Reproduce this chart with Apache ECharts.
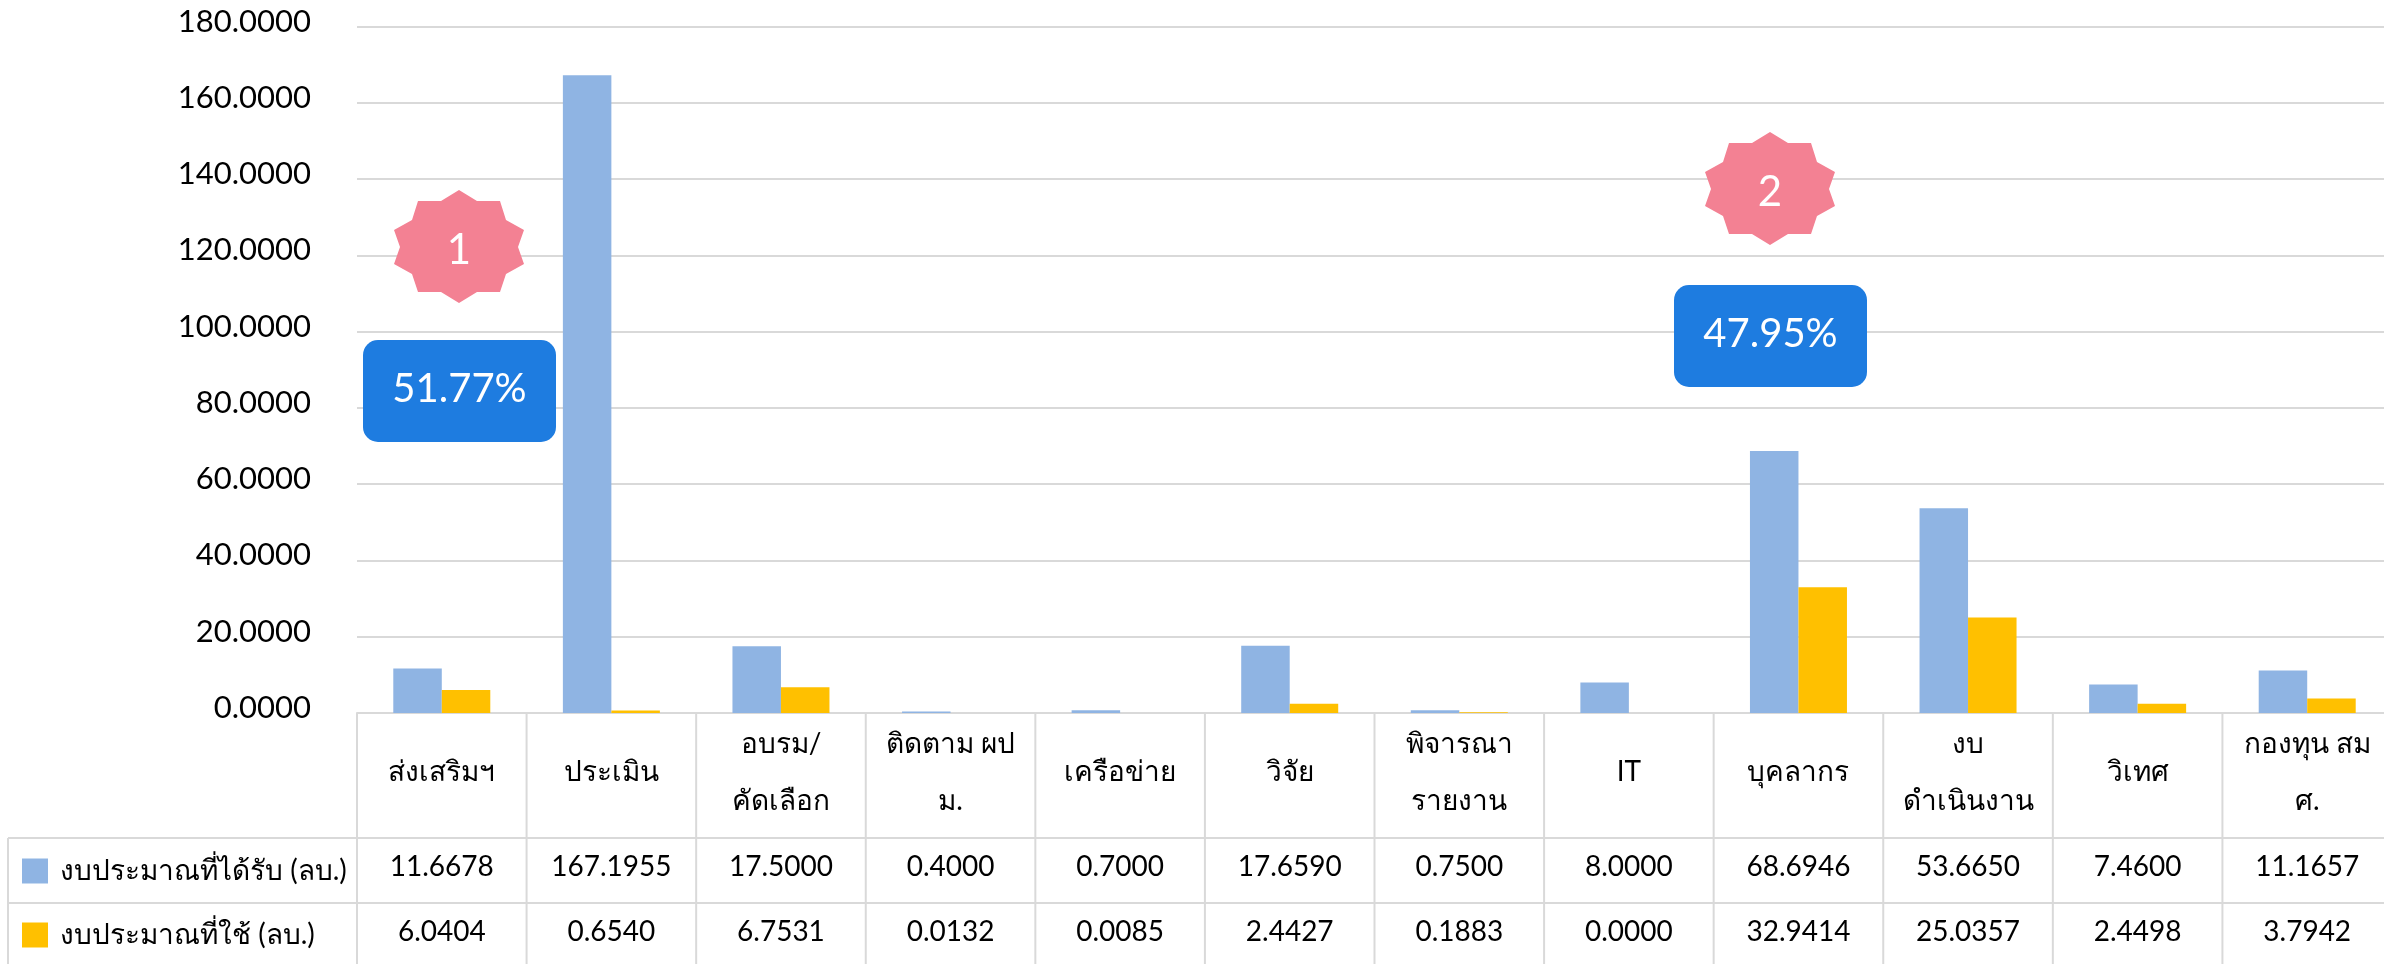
<!DOCTYPE html>
<html>
<head>
<meta charset="utf-8">
<style>
html, body { margin: 0; padding: 0; background: #fff; overflow: hidden; }
#main { width: 2392px; height: 964px; }
</style>
<script src="https://cdn.jsdelivr.net/npm/echarts@6/dist/echarts.min.js"></script>
</head>
<body>
<div id="main"></div>
<script>
var categories = ['ส่งเสริมฯ', 'ประเมิน', 'อบรม/\nคัดเลือก', 'ติดตาม ผป\nม.', 'เครือข่าย', 'วิจัย',
    'พิจารณา\nรายงาน', 'IT', 'บุคลากร', 'งบ\nดำเนินงาน', 'วิเทศ', 'กองทุน สม\nศ.'];
var received = [11.6678, 167.1955, 17.5, 0.4, 0.7, 17.659, 0.75, 8, 68.6946, 53.665, 7.46, 11.1657];
var used = [6.0404, 0.654, 6.7531, 0.0132, 0.0085, 2.4427, 0.1883, 0, 32.9414, 25.0357, 2.4498, 3.7942];
var receivedName = 'งบประมาณที่ได้รับ (ลบ.)';
var usedName = 'งบประมาณที่ใช้ (ลบ.)';

var font = 'Lato, "Noto Sans", sans-serif';
var lineColor = '#D9D9D9';
var gridLeft = 357, gridTop = 26.5, gridWidth = 2035, gridHeight = 686.5;
var rowTop = 838, rowMid = 903, pageBottom = 964, tableLeft = 8;

function fixed4(v) {
    return v.toFixed(4);
}

// table row axes, they sit under the chart and only show text
function rowAxis(values, margin) {
    return {
        type: 'category',
        position: 'bottom',
        data: values.map(fixed4),
        axisLine: { show: false },
        axisTick: { show: false },
        axisLabel: {
            interval: 0,
            margin: margin,
            color: '#000',
            fontFamily: font,
            fontSize: 28,
            verticalAlign: 'middle'
        }
    };
}

// table lines
var graphics = [];
function addLine(x1, y1, x2, y2) {
    graphics.push({
        type: 'line',
        silent: true,
        shape: { x1: x1, y1: y1, x2: x2, y2: y2 },
        style: { stroke: lineColor, lineWidth: 2 }
    });
}
for (var i = 0; i <= categories.length; i++) {
    var colX = gridLeft + i * gridWidth / categories.length;
    addLine(colX, gridTop + gridHeight, colX, pageBottom);
}
addLine(tableLeft, rowTop, gridLeft + gridWidth, rowTop);
addLine(tableLeft, rowMid, gridLeft + gridWidth, rowMid);
addLine(tableLeft, rowTop, tableLeft, pageBottom);

// badges
var starOffsets = [[0, -57], [18, -46], [41, -46], [47, -27], [65, -17], [59, 0], [65, 17], [47, 27], [41, 45],
    [18, 45], [0, 56], [-18, 45], [-41, 45], [-47, 27], [-65, 17], [-59, 0], [-65, -17], [-47, -27], [-41, -46], [-18, -46]];
function addBadge(cx, cy, num, left, top, pct) {
    graphics.push({
        type: 'polygon',
        silent: true,
        z: 10,
        shape: { points: starOffsets.map(function(p) { return [cx + p[0], cy + p[1]]; }) },
        style: { fill: '#F38193' }
    });
    graphics.push({
        type: 'text',
        silent: true,
        z: 11,
        style: { x: cx, y: cy + 3, text: num, fill: '#fff', font: '42px ' + font, textAlign: 'center', textVerticalAlign: 'middle' }
    });
    graphics.push({
        type: 'rect',
        silent: true,
        z: 10,
        shape: { x: left, y: top, width: 193, height: 102, r: 15 },
        style: { fill: '#1E7CE0' }
    });
    graphics.push({
        type: 'text',
        silent: true,
        z: 11,
        style: { x: left + 96.5, y: top + 49, text: pct, fill: '#fff', font: '40px ' + font, textAlign: 'center', textVerticalAlign: 'middle' }
    });
}
addBadge(459, 247, '1', 363, 340, '51.77%');
addBadge(1770, 189, '2', 1674, 285, '47.95%');

var myChart = echarts.init(document.getElementById('main'));
var option = {
    animation: false,
    grid: { left: gridLeft, top: gridTop, width: gridWidth, height: gridHeight, containLabel: false },
    legend: {
        orient: 'vertical',
        left: 22,
        top: 857,
        padding: 0,
        itemWidth: 26,
        itemHeight: 25,
        itemGap: 36,
        icon: 'rect',
        data: [receivedName, usedName],
        textStyle: { color: '#000', fontFamily: font, fontSize: 28, lineHeight: 25, padding: [0, 0, 0, 7] }
    },
    xAxis: [{
        type: 'category',
        data: categories,
        axisLine: { lineStyle: { color: lineColor, width: 2 } },
        axisTick: { show: false },
        axisLabel: {
            interval: 0,
            margin: 59,
            color: '#000',
            fontFamily: font,
            fontSize: 28,
            lineHeight: 57,
            verticalAlign: 'middle'
        }
    }, rowAxis(received, 154), rowAxis(used, 219)],
    yAxis: {
        type: 'value',
        min: 0,
        max: 180,
        interval: 20,
        axisLine: { show: false },
        axisTick: { show: false },
        axisLabel: {
            margin: 46,
            color: '#000',
            fontFamily: font,
            fontSize: 31,
            verticalAlign: 'bottom',
            lineHeight: 10,
            formatter: fixed4
        },
        splitLine: { lineStyle: { color: lineColor, width: 2 } }
    },
    series: [{
        name: receivedName,
        type: 'bar',
        barWidth: 48.5,
        barGap: 0,
        itemStyle: { color: '#8FB4E3' },
        data: received
    }, {
        name: usedName,
        type: 'bar',
        barWidth: 48.5,
        barGap: 0,
        itemStyle: { color: '#FFC000' },
        data: used
    }],
    graphic: { elements: graphics }
};
myChart.setOption(option);
</script>
</body>
</html>
